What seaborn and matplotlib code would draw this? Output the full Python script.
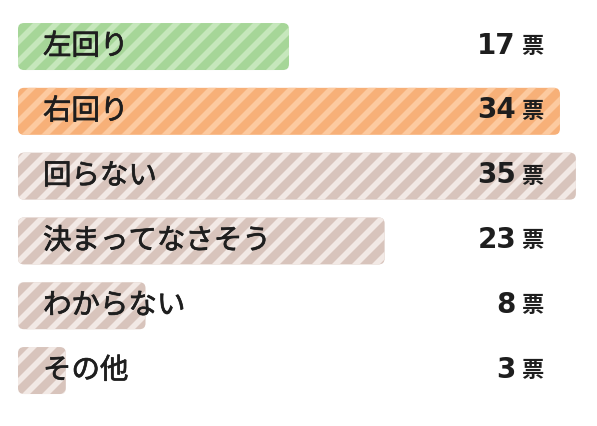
import matplotlib
matplotlib.use("Agg")
import matplotlib.pyplot as plt
import matplotlib.patheffects as pe
from matplotlib.patches import FancyBboxPatch
import seaborn as sns
import pandas as pd

labels = ["左回り", "右回り", "回らない", "決まってなさそう", "わからない", "その他"]
votes = [17, 34, 35, 23, 8, 3]
base_colors = ["#a6d698", "#f7b078", "#d8c4bc", "#d8c4bc", "#d8c4bc", "#d8c4bc"]
stripe_colors = ["#c6e7bc", "#fccaa0", "#f2e9e5", "#f2e9e5", "#f2e9e5", "#f2e9e5"]

DPI = 120
k = 100 / DPI  # keep sizes as if drawn at 100 dpi

sns.set_theme(style="white")
plt.rcParams["font.family"] = ["Noto Sans CJK JP", "DejaVu Sans"]
plt.rcParams["hatch.linewidth"] = 3.4

df = pd.DataFrame({"label": labels, "votes": votes})

fig = plt.figure(figsize=(597 / DPI, 426 / DPI), dpi=DPI)
ax = fig.add_axes([18 / 597, 0, 579 / 597, 1])
sns.barplot(data=df, x="votes", y="label", hue="label", palette=base_colors,
            orient="h", width=0.725, legend=False, ax=ax)

ax.set_xlim(0, 579 / 15.94)
ax.set_ylim(5.856, -0.718)
ax.axis("off")

# swap the square bars for rounded, striped ones
fig.canvas.draw()
px_x = ax.transData.transform((1, 0))[0] - ax.transData.transform((0, 0))[0]
px_y = abs(ax.transData.transform((0, 1))[1] - ax.transData.transform((0, 0))[1])
r = 6 / px_x
aspect = (6 / px_y) / r
for bar, fc, hc in zip(list(ax.patches), base_colors, stripe_colors):
    x, y, w, h = bar.get_x(), bar.get_y(), bar.get_width(), bar.get_height()
    bar.set_visible(False)
    ax.add_patch(FancyBboxPatch((x, y), w, h,
                                boxstyle=f"round,pad=0,rounding_size={r}",
                                mutation_aspect=aspect,
                                facecolor=fc, edgecolor=hc, linewidth=0,
                                hatch="//"))

ink = "#1e1e1e"
thick = [pe.Stroke(linewidth=0.5 * k, foreground=ink), pe.Normal()]
for i, (lab, v) in enumerate(zip(labels, votes)):
    ax.annotate(lab, xy=(0, i), xytext=(25, 0), textcoords="offset pixels",
                ha="left", va="center", fontsize=20.5 * k, color=ink,
                path_effects=thick)
    ax.annotate("票", xy=(0, i), xytext=(543 - 18, 0), textcoords="offset pixels",
                ha="right", va="center", fontsize=16 * k, fontweight="bold",
                color=ink)
    ax.annotate(str(v), xy=(0, i), xytext=(516 - 18, 1), textcoords="offset pixels",
                ha="right", va="center", fontsize=20 * k, fontweight="bold",
                family="DejaVu Sans", color=ink)

fig.savefig("out.png", dpi=DPI)
